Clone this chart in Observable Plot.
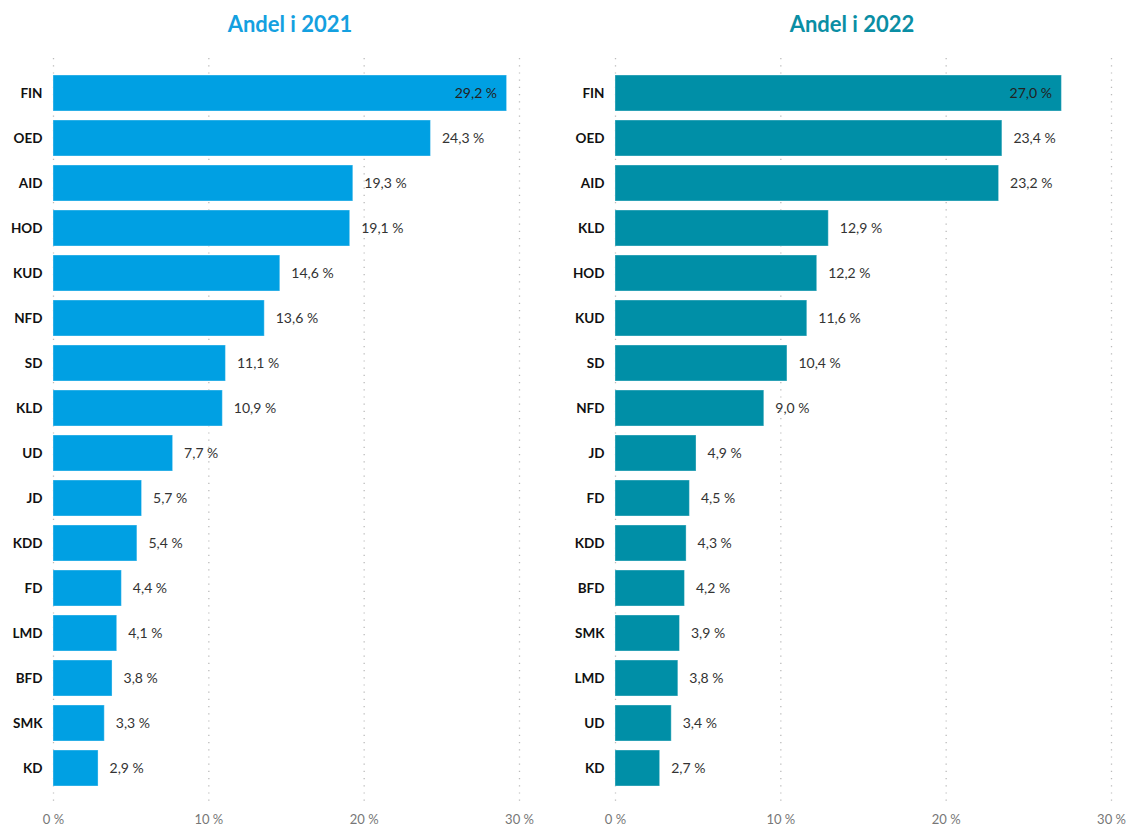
<!DOCTYPE html>
<html><head><meta charset="utf-8">
<script src="https://cdn.jsdelivr.net/npm/d3@7"></script>
<script src="https://cdn.jsdelivr.net/npm/@observablehq/plot@0.6"></script>
<style>
body{margin:0;background:#fff;font-family:Lato,"Noto Sans",sans-serif;}
#wrap{display:flex;width:1130px;height:826px;}
.panel{width:565px;}
.title{height:48px;line-height:48px;font-size:22px;font-weight:bold;text-align:center;}
</style></head>
<body><div id="wrap"></div>
<script>
const cats2021 = ["FIN","OED","AID","HOD","KUD","NFD","SD","KLD","UD","JD","KDD","FD","LMD","BFD","SMK","KD"];
const vals2021 = [29.2,24.3,19.3,19.1,14.6,13.6,11.1,10.9,7.7,5.7,5.4,4.4,4.1,3.8,3.3,2.9];
const cats2022 = ["FIN","OED","AID","KLD","HOD","KUD","SD","NFD","JD","FD","KDD","BFD","SMK","LMD","UD","KD"];
const vals2022 = [27.0,23.4,23.2,12.9,12.2,11.6,10.4,9.0,4.9,4.5,4.3,4.2,3.9,3.8,3.4,2.7];
const xTicks = [0,10,20,30];
const titles = ["Andel i 2021","Andel i 2022"];

const fmt = v => v.toFixed(1).replace(".", ",") + " %";

function panel(title, cats, vals, color, titleColor, mLeft, mRight, titleOffset){
  const data = cats.map((c,i)=>({cat:c, value:vals[i]}));
  const maxV = d3.max(vals);
  const div = document.createElement("div");
  div.className = "panel";
  const t = document.createElement("div");
  t.className = "title";
  t.style.color = titleColor;
  t.style.paddingLeft = titleOffset + "px";
  t.textContent = title;
  div.appendChild(t);
  const chart = Plot.plot({
    width: 565,
    height: 778,
    marginLeft: mLeft,
    marginRight: mRight,
    marginTop: 14,
    marginBottom: 27,
    style: {fontFamily: "Lato, 'Noto Sans', sans-serif", background: "#fff"},
    x: {domain: [0,30], ticks: xTicks, tickFormat: d => d + " %", label: null},
    y: {domain: cats, padding: 0.2, label: null},
    marks: [
      Plot.ruleX(xTicks, {stroke: "#bbb", strokeDasharray: "1.2,6", strokeWidth: 1.3, insetTop: -4, insetBottom: -4}),
      Plot.barX(data, {x: "value", y: "cat", fill: color, stroke: "#ffffff", strokeOpacity: 0.35, strokeWidth: 1}),
      Plot.text(data.filter(d => d.value !== maxV), {x: "value", y: "cat", text: d => fmt(d.value), textAnchor: "start", dx: 11, fontSize: 14, fill: "#333"}),
      Plot.text(data.filter(d => d.value === maxV), {x: "value", y: "cat", text: d => fmt(d.value), textAnchor: "end", dx: -10, fontSize: 14, fill: "#222"}),
      Plot.axisY({tickSize: 0, tickPadding: 11, fontSize: 13.5, fontWeight: "bold", fill: "#111"}),
      Plot.axisX(xTicks, {tickSize: 0, tickPadding: 15, fontSize: 13, fill: "#777", tickFormat: d => d + " %"})
    ]
  });
  div.appendChild(chart);
  return div;
}

const wrap = document.getElementById("wrap");
wrap.appendChild(panel(titles[0], cats2021, vals2021, "#00A0E3", "#14A0E0", 53, 46, 15));
wrap.appendChild(panel(titles[1], cats2022, vals2022, "#008FA7", "#0A8EA4", 50, 19, 9));
</script>
</body></html>
